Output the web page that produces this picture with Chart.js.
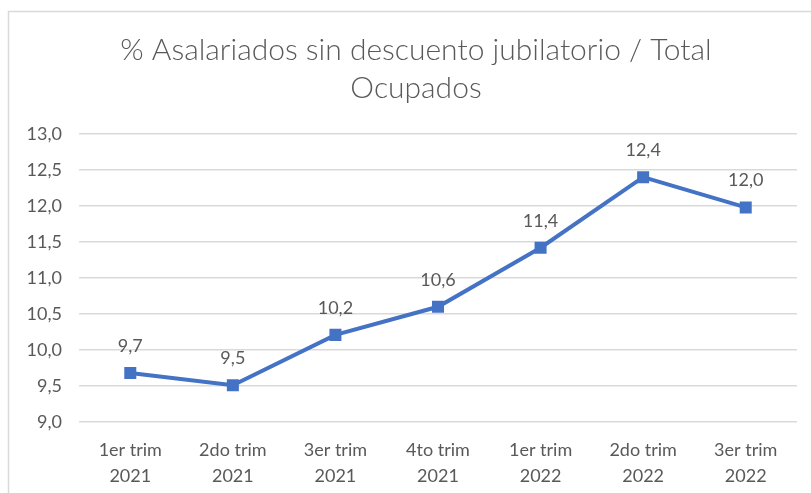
<!DOCTYPE html>
<html>
<head>
<meta charset="utf-8">
<script src="https://cdn.jsdelivr.net/npm/chart.js@4.4.1/dist/chart.umd.min.js"></script>
<style>
  html, body { margin: 0; padding: 0; background: #fff; }
  #wrap { position: relative; width: 811px; height: 493px; }
</style>
</head>
<body>
<div id="wrap"><canvas id="asalariadosChart" width="811" height="493" aria-label="% Asalariados sin descuento jubilatorio / Total Ocupados"></canvas></div>
<script>
    // ===== DATA =====
    const categories = [
        ['1er trim', '2021'], ['2do trim', '2021'], ['3er trim', '2021'], ['4to trim', '2021'],
        ['1er trim', '2022'], ['2do trim', '2022'], ['3er trim', '2022']
    ];
    const porcentajes = [9.68, 9.51, 10.21, 10.6, 11.42, 12.4, 11.98];
    const titleLines = ['% Asalariados sin descuento jubilatorio / Total', 'Ocupados'];

    const FONT = 'Lato, "Open Sans", sans-serif';
    const TEXT_GRAY = '#595959';
    const fmt = v => Number(v).toFixed(1).replace('.', ',');

    // white background, outer frame and the two-line title
    const framePlugin = {
        id: 'frame',
        beforeDraw(chart) {
            const ctx = chart.ctx;
            ctx.save();
            ctx.fillStyle = '#fff';
            ctx.fillRect(0, 0, chart.width, chart.height);
            ctx.strokeStyle = '#d9d9d9';
            ctx.lineWidth = 1.5;
            ctx.strokeRect(8.5, 11.5, chart.width + 20, chart.height + 20);

            ctx.fillStyle = TEXT_GRAY;
            ctx.font = '300 30px ' + FONT;
            ctx.textAlign = 'center';
            ctx.textBaseline = 'middle';
            titleLines.forEach((line, i) => ctx.fillText(line, 416, 50 + i * 38));
            ctx.restore();
        }
    };

    // value labels above each point
    const valueLabels = {
        id: 'valueLabels',
        afterDatasetsDraw(chart) {
            const ctx = chart.ctx;
            const meta = chart.getDatasetMeta(0);
            ctx.save();
            ctx.font = '18px ' + FONT;
            ctx.fillStyle = TEXT_GRAY;
            ctx.textAlign = 'center';
            ctx.textBaseline = 'middle';
            meta.data.forEach((pt, i) => {
                ctx.fillText(fmt(porcentajes[i]), pt.x, pt.y - 27);
            });
            ctx.restore();
        }
    };

    new Chart(document.getElementById('asalariadosChart'), {
        type: 'line',
        data: {
            labels: categories,
            datasets: [{
                data: porcentajes,
                borderColor: '#4472c4',
                backgroundColor: '#4472c4',
                borderWidth: 4,
                pointStyle: 'rect',
                pointRadius: 8.5,
                pointBackgroundColor: '#4472c4',
                pointBorderColor: '#4472c4',
                pointBorderWidth: 0,
                tension: 0
            }]
        },
        options: {
            responsive: false,
            animation: false,
            layout: { padding: { left: 0, right: 14, top: 134, bottom: 0 } },
            plugins: {
                legend: { display: false },
                tooltip: { enabled: false },
                title: { display: false }
            },
            scales: {
                x: {
                    offset: true,
                    afterFit(scale) { scale.height = 71; },
                    grid: { display: false },
                    border: { display: false },
                    ticks: {
                        color: TEXT_GRAY,
                        font: { family: FONT, size: 18, lineHeight: 1.4 },
                        padding: 8,
                        maxRotation: 0,
                        autoSkip: false
                    }
                },
                y: {
                    min: 9,
                    max: 13,
                    afterFit(scale) { scale.width = 79; },
                    grid: { color: '#d9d9d9', lineWidth: 1.5, drawTicks: false },
                    border: { display: false },
                    ticks: {
                        stepSize: 0.5,
                        color: TEXT_GRAY,
                        font: { family: FONT, size: 18 },
                        padding: 17,
                        callback: v => fmt(v)
                    }
                }
            }
        },
        plugins: [framePlugin, valueLabels]
    });
</script>
</body>
</html>
